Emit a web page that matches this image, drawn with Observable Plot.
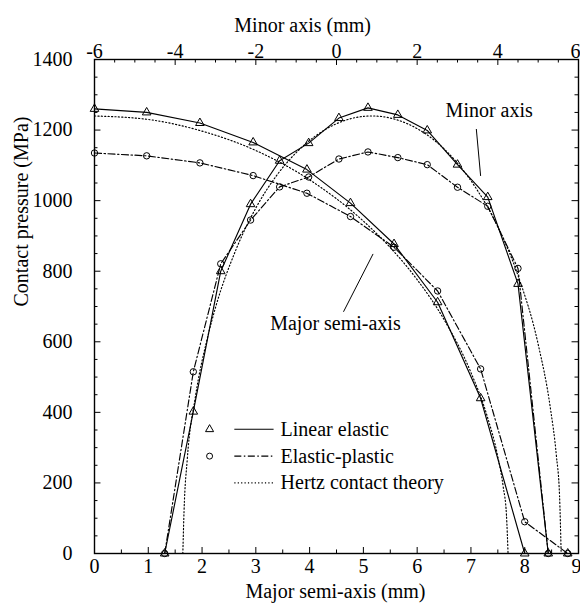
<!DOCTYPE html>
<html><head><meta charset="utf-8">
<script src="https://cdn.jsdelivr.net/npm/d3@7"></script>
<script src="https://cdn.jsdelivr.net/npm/@observablehq/plot@0.6"></script>
<style>
body{margin:0;background:#fff}
#chart{position:absolute;left:0;top:0}
</style>
</head><body><div id="chart"></div>
<script>
// ---- data ----
// Major semi-axis (bottom axis, mm)
const majorX  = [0, 0.97, 1.96, 2.95, 3.95, 4.76, 5.57, 6.38, 7.18, 8.0, 8.8];
const majorLE = [1260, 1250, 1220, 1165, 1088, 993, 877, 712, 440, 0, 0];
const majorEP = [1135, 1127, 1107, 1071, 1021, 955, 868, 744, 523, 90, 0];
// Minor axis (top axis, mm)
const minorX  = [-4.26, -3.55, -2.87, -2.13, -1.41, -0.69, 0.06, 0.78, 1.52, 2.25, 3.0, 3.75, 4.5, 5.25];
const minorLE = [0, 402, 800, 990, 1113, 1163, 1234, 1263, 1243, 1199, 1102, 1010, 764, 0];
const minorEP = [0, 515, 821, 945, 1039, 1067, 1118, 1138, 1122, 1102, 1038, 984, 808, 0];
// Hertz contact theory
const hertzMajorX = [0, 1, 2, 3, 4, 5, 5.5, 6, 6.5, 7, 7.3, 7.5, 7.6, 7.66, 7.69];
const hertzMajorP = [1240, 1230, 1197, 1142, 1059, 942, 867, 776, 663, 513, 390, 274, 189, 110, 0];
const hertzMinorX = [-3.81, -3.78, -3.7, -3.5, -3.2, -3.0, -2.5, -2.0, -1.5, -1.0, -0.5, 0, 0.5, 0.88, 1.5, 2.0, 2.5, 3.0, 3.5, 4.0, 4.5, 5.0, 5.3, 5.45, 5.53, 5.57];
const hertzMinorP = [0, 120, 267, 443, 611, 697, 859, 979, 1069, 1136, 1185, 1218, 1236, 1240, 1229, 1204, 1164, 1106, 1028, 926, 788, 593, 414, 279, 164, 0];
// ticks
const majorTicks = [0, 1, 2, 3, 4, 5, 6, 7, 8, 9];
const minorTicks = [-6, -4, -2, 0, 2, 4, 6];
const yTicks = [0, 200, 400, 600, 800, 1000, 1200, 1400];
const legendLabels = ["Linear elastic", "Elastic-plastic", "Hertz contact theory"];

// ---- helpers ----
const toMajor = t => (t + 6) * 9 / 12;          // top axis -> bottom scale
const pts = (xs, ys, f = d => d) => xs.map((x, i) => ({x: f(x), y: ys[i]}));

const mLE = pts(majorX, majorLE), mEP = pts(majorX, majorEP), mH = pts(hertzMajorX, hertzMajorP);
const nLE = pts(minorX, minorLE, toMajor), nEP = pts(minorX, minorEP, toMajor), nH = pts(hertzMinorX, hertzMinorP, toMajor);

const DASHDOT = "7,2.5,1.5,2.5";
const DOT = "1.2,2.2";
const SW = 1.15;
const FONT = 20;

const yMinor = d3.range(0, 1401, 50);
const xMinor = d3.range(0, 9.01, 0.5);
const tMinor = d3.range(-6, 6.01, 0.5);

const legendY = [352, 276, 200];
const legendDash = [null, DASHDOT, DOT];
const legend = legendLabels.map((l, i) => ({label: l, y: legendY[i], sym: ["triangle", "circle", null][i]}));

const annotations = [
  {label: "Minor axis", x: 7.34, y: 1254, x1: 7.10, y1: 1203, x2: 7.18, y2: 1070},
  {label: "Major semi-axis", x: 4.48, y: 652, x1: 5.18, y1: 849, x2: 4.63, y2: 685}
];

const lastMajor = majorTicks[majorTicks.length - 1];
const lastMinor = minorTicks[minorTicks.length - 1];

const chart = Plot.plot({
  width: 580, height: 611,
  marginLeft: 94, marginRight: 2, marginTop: 59, marginBottom: 58,
  x: {domain: [0, 9], axis: null},
  y: {domain: [0, 1400], axis: null},
  style: {fontFamily: "'Liberation Serif', 'Times New Roman', serif", fontSize: FONT + "px", color: "black", background: "white"},
  marks: [
    // tick marks (inward)
    Plot.ruleY(yMinor, {x1: 0, x2: d => d % 200 === 0 ? 0.12 : 0.065, stroke: "black", strokeWidth: 1}),
    Plot.ruleY(yMinor, {x1: 9, x2: d => d % 200 === 0 ? 8.88 : 8.935, stroke: "black", strokeWidth: 1}),
    Plot.ruleX(xMinor, {y1: 0, y2: d => d % 1 === 0 ? 17 : 10, stroke: "black", strokeWidth: 1}),
    Plot.ruleX(tMinor, {x: toMajor, y1: 1400, y2: d => d % 2 === 0 ? 1383 : 1390, stroke: "black", strokeWidth: 1}),
    Plot.frame({stroke: "black", strokeWidth: 1.4}),
    // tick labels
    Plot.axisX({ticks: majorTicks.slice(0, -1), tickSize: 0, tickPadding: 5, tickFormat: d => String(d), label: null, fontSize: FONT}),
    Plot.text([lastMajor], {x: d => d, frameAnchor: "bottom", dy: 5, lineAnchor: "top", textAnchor: "end", dx: 3, text: d => String(d), fontSize: FONT}),
    Plot.axisX({anchor: "top", ticks: minorTicks.slice(0, -1).map(toMajor), tickSize: 0, tickPadding: 2,
      tickFormat: d => String(Math.round(d * 12 / 9 - 6)), label: null, fontSize: FONT}),
    Plot.text([lastMinor], {x: toMajor, frameAnchor: "top", dy: -2, lineAnchor: "bottom", textAnchor: "end", dx: 2, text: d => String(d), fontSize: FONT}),
    Plot.axisY({ticks: yTicks, tickSize: 0, tickPadding: 22, tickFormat: d => String(d), label: null, fontSize: FONT}),
    // axis titles
    Plot.text(["Major semi-axis (mm)"], {x: 4.48, frameAnchor: "bottom", dy: 44, text: d => d, fontSize: FONT}),
    Plot.text(["Minor axis (mm)"], {x: 3.87, frameAnchor: "top", dy: -42, text: d => d, fontSize: FONT}),
    Plot.text(["Contact pressure (MPa)"], {y: 700, frameAnchor: "left", dx: -73, rotate: -90, text: d => d, fontSize: FONT}),
    // Hertz
    Plot.line(mH, {x: "x", y: "y", stroke: "black", strokeWidth: SW, strokeDasharray: DOT, curve: "monotone-x"}),
    Plot.line(nH, {x: "x", y: "y", stroke: "black", strokeWidth: SW, strokeDasharray: DOT, curve: "monotone-x"}),
    // elastic-plastic
    Plot.line(mEP, {x: "x", y: "y", stroke: "black", strokeWidth: SW, strokeDasharray: DASHDOT}),
    Plot.line(nEP, {x: "x", y: "y", stroke: "black", strokeWidth: SW, strokeDasharray: DASHDOT}),
    // linear elastic
    Plot.line(mLE, {x: "x", y: "y", stroke: "black", strokeWidth: SW}),
    Plot.line(nLE, {x: "x", y: "y", stroke: "black", strokeWidth: SW}),
    // markers
    Plot.dot(mEP, {x: "x", y: "y", symbol: "circle", r: 3.2, stroke: "black", strokeWidth: 1, fill: "none"}),
    Plot.dot(nEP, {x: "x", y: "y", symbol: "circle", r: 3.2, stroke: "black", strokeWidth: 1, fill: "none"}),
    Plot.dot(mLE, {x: "x", y: "y", symbol: "triangle", r: 3.2, stroke: "black", strokeWidth: 1, fill: "none"}),
    Plot.dot(nLE, {x: "x", y: "y", symbol: "triangle", r: 3.2, stroke: "black", strokeWidth: 1, fill: "none"}),
    // annotations
    Plot.link(annotations, {x1: "x1", y1: "y1", x2: "x2", y2: "y2", stroke: "black", strokeWidth: 1}),
    Plot.text(annotations, {x: "x", y: "y", text: "label", fontSize: FONT}),
    // legend
    Plot.dot(legend.filter(d => d.sym), {x: 2.14, y: "y", symbol: "sym", r: 3, stroke: "black", strokeWidth: 1, fill: "none"}),
    ...legend.map((d, i) => Plot.link([d], {x1: 2.6, x2: 3.33, y1: "y", y2: "y", stroke: "black", strokeWidth: SW, strokeDasharray: legendDash[i]})),
    Plot.text(legend, {x: 3.46, y: "y", text: "label", textAnchor: "start", fontSize: FONT})
  ]
});
document.getElementById("chart").appendChild(chart);
</script>
</body></html>
